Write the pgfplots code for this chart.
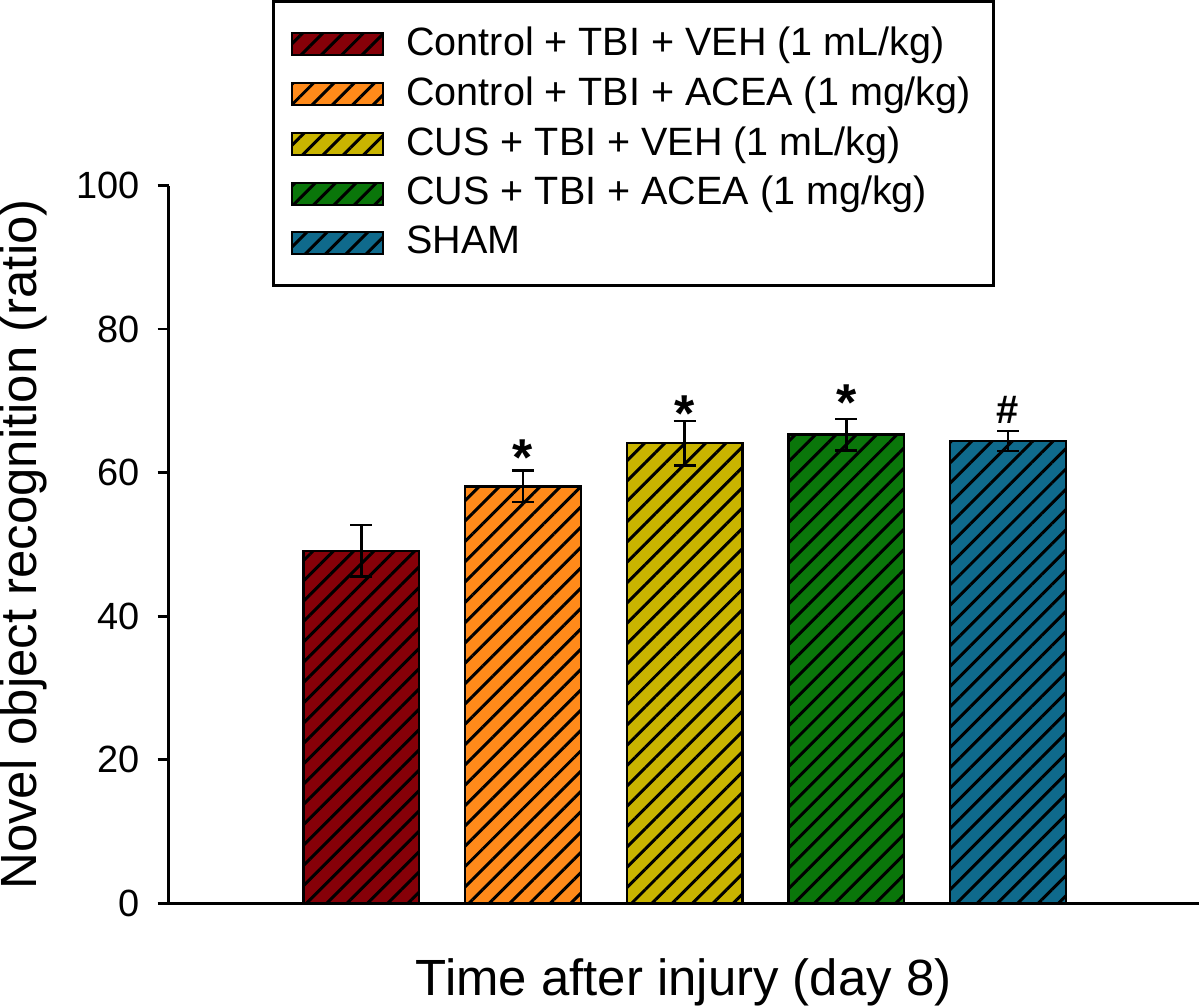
\documentclass[border=0pt]{standalone}
\usepackage{pgfplots}
\pgfplotsset{compat=1.18}
\usetikzlibrary{patterns.meta}
\usepackage{fontspec}
\setmainfont{Liberation Sans}

\definecolor{cA}{HTML}{860008}
\definecolor{cB}{HTML}{FF8A1A}
\definecolor{cC}{HTML}{C9B400}
\definecolor{cD}{HTML}{0A760A}
\definecolor{cE}{HTML}{0F6A8C}

\tikzset{hatch/.style={postaction={pattern={Lines[angle=45,distance=3.6pt,line width=0.75pt]},pattern color=black}}}

\begin{document}
\begin{tikzpicture}
\begin{axis}[
    scale only axis,
    width=258pt, height=179.75pt,
    xmin=-1.191, xmax=5.179,
    ymin=0, ymax=100,
    axis x line=bottom, axis y line=left,
    axis line style={-, line width=0.65pt},
    xtick=\empty,
    ytick={0,20,...,100},
    tick align=outside,
    major tick length=2.75pt,
    tick style={line width=0.65pt, black},
    /pgf/number format/assume math mode=true,
    ticklabel style={font=\fontsize{9.5}{11}\selectfont},
    yticklabel style={xshift=-1pt},
    ylabel={Novel object recognition (ratio)},
    xlabel={Time after injury (day 8)},
    label style={font=\fontsize{12.75}{15}\selectfont},
    ylabel style={at={(axis description cs:-0.1645,0.5)}, anchor=north, inner sep=0pt},
    xlabel style={at={(axis description cs:0.5,0)}, anchor=north, inner sep=0pt, yshift=-13.75pt},
    ybar, bar width=29pt, bar shift=0pt,
    legend style={at={(0.1008,1.2587)}, anchor=north west, draw=black, line width=0.7pt,
        font=\fontsize{9.9}{11}\selectfont, inner xsep=4.2pt, inner ysep=4.5pt,
        column sep=4pt, nodes={inner xsep=1.5pt, inner ysep=1.9pt}},
    legend cell align=left,
    legend image code/.code={\draw[#1, line width=0.5pt] (0pt,-2.75pt) rectangle (23pt,2.75pt);},
    error bars/error bar style={line width=0.65pt, black},
    error bars/error mark options={rotate=90, mark size=2.75pt, line width=0.65pt, black},
    clip=false,
]
\addplot[fill=cA, draw=black, line width=0.6pt, hatch, error bars/.cd, y dir=both, y explicit]
    coordinates {(0,49.1) +- (0,3.6)};
\addlegendentry{Control + TBI + VEH (1 mL/kg)}
\addplot[fill=cB, draw=black, line width=0.6pt, hatch, error bars/.cd, y dir=both, y explicit]
    coordinates {(1,58.1) +- (0,2.2)};
\addlegendentry{Control + TBI + ACEA (1 mg/kg)}
\addplot[fill=cC, draw=black, line width=0.6pt, hatch, error bars/.cd, y dir=both, y explicit]
    coordinates {(2,64.1) +- (0,3.1)};
\addlegendentry{CUS + TBI + VEH (1 mL/kg)}
\addplot[fill=cD, draw=black, line width=0.6pt, hatch, error bars/.cd, y dir=both, y explicit]
    coordinates {(3,65.3) +- (0,2.2)};
\addlegendentry{CUS + TBI + ACEA (1 mg/kg)}
\addplot[fill=cE, draw=black, line width=0.6pt, hatch, error bars/.cd, y dir=both, y explicit]
    coordinates {(4,64.4) +- (0,1.4)};
\addlegendentry{SHAM}

% significance marks
\node[anchor=north, inner sep=0pt, font=\bfseries\fontsize{13}{13}\selectfont] at (axis cs:1,64.7) {*};
\node[anchor=north, inner sep=0pt, font=\bfseries\fontsize{13}{13}\selectfont] at (axis cs:2,70.8) {*};
\node[anchor=north, inner sep=0pt, font=\bfseries\fontsize{13}{13}\selectfont] at (axis cs:3,72.3) {*};
\node[anchor=north, inner sep=0pt, font=\bfseries\fontsize{10}{10}\selectfont] at (axis cs:4,70.8) {\#};
\end{axis}
\end{tikzpicture}
\end{document}
